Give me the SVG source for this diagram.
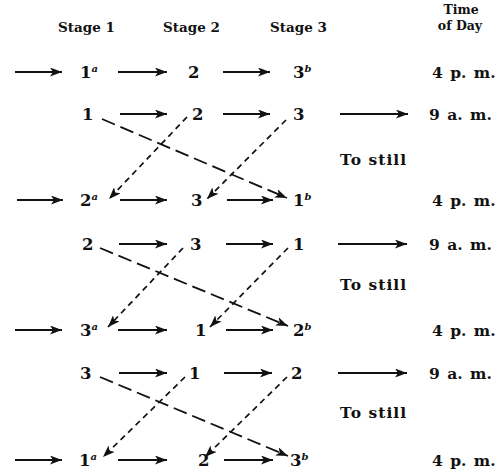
<svg xmlns="http://www.w3.org/2000/svg" width="504" height="472" viewBox="0 0 504 472">
<style>
text{font-family:"DejaVu Serif","Liberation Serif",serif;fill:#111;}
.hd{font-size:13.5px;font-weight:bold;}
.hd2{font-size:12.5px;font-weight:bold;}
.n{font-size:16.5px;font-weight:bold;}
.t{font-size:15.5px;font-weight:bold;word-spacing:2px;}
.ts{font-size:15.5px;font-weight:bold;letter-spacing:1px;}
.s{font-size:10px;font-style:italic;font-weight:bold;}
.a{stroke:#111;stroke-width:2;fill:none;marker-end:url(#ah);}
.ld{stroke:#111;stroke-width:1.8;fill:none;stroke-dasharray:14 6;marker-end:url(#ah);}
.sd{stroke:#111;stroke-width:1.7;fill:none;stroke-dasharray:6 4.5;marker-end:url(#ah);}
</style>
<defs>
<marker id="ah" markerUnits="userSpaceOnUse" markerWidth="13" markerHeight="9" refX="12" refY="4.5" orient="auto">
<path d="M0,0 L12,4.5 L0,9 L3,4.5 z" fill="#111"/>
</marker>
</defs>
<g id="headers">
<text class="hd" x="58" y="32">Stage 1</text>
<text class="hd" x="163" y="32">Stage 2</text>
<text class="hd" x="270" y="32">Stage 3</text>
<text class="hd2" x="461" y="14" text-anchor="middle">Time</text>
<text class="hd2" x="460" y="30" text-anchor="middle">of Day</text>
</g>
<g id="connectors">
<line class="a" x1="15" y1="72" x2="62" y2="72"/>
<line class="a" x1="118" y1="72" x2="167" y2="72"/>
<line class="a" x1="223" y1="72" x2="270" y2="72"/>
<line class="a" x1="120" y1="114" x2="167" y2="114"/>
<line class="a" x1="223" y1="114" x2="270" y2="114"/>
<line class="a" x1="340" y1="114" x2="408" y2="114"/>
<line class="a" x1="17" y1="200" x2="63" y2="200"/>
<line class="a" x1="120" y1="200" x2="167" y2="200"/>
<line class="a" x1="227" y1="200" x2="273" y2="200"/>
<line class="a" x1="119" y1="244" x2="167" y2="244"/>
<line class="a" x1="226" y1="244" x2="273" y2="244"/>
<line class="a" x1="338" y1="244" x2="407" y2="244"/>
<line class="a" x1="15" y1="330" x2="62" y2="330"/>
<line class="a" x1="118" y1="330" x2="167" y2="330"/>
<line class="a" x1="226" y1="330" x2="273" y2="330"/>
<line class="a" x1="119" y1="373" x2="167" y2="373"/>
<line class="a" x1="224" y1="373" x2="272" y2="373"/>
<line class="a" x1="338" y1="373" x2="407" y2="373"/>
<line class="a" x1="15" y1="460" x2="62" y2="460"/>
<line class="a" x1="118" y1="460" x2="167" y2="460"/>
<line class="a" x1="224" y1="460" x2="273" y2="460"/>
<line class="ld" x1="102" y1="119" x2="287" y2="198"/>
<line class="sd" x1="187" y1="117" x2="109" y2="199"/>
<line class="sd" x1="286" y1="120" x2="207" y2="199"/>
<line class="ld" x1="100" y1="248" x2="288" y2="326"/>
<line class="sd" x1="183" y1="248" x2="108" y2="327"/>
<line class="sd" x1="288" y1="248" x2="210" y2="327"/>
<line class="ld" x1="100" y1="377" x2="288" y2="456"/>
<line class="sd" x1="185" y1="377" x2="103" y2="457"/>
<line class="sd" x1="287" y1="377" x2="205" y2="457"/>
</g>
<g id="row1">
<text class="n" x="80" y="78">1<tspan class="s" dy="-6">a</tspan></text>
<text class="n" x="188" y="78">2</text>
<text class="n" x="293" y="78">3<tspan class="s" dy="-6">b</tspan></text>
<text class="t" x="432" y="78">4 p. m.</text>
</g>
<g id="row2">
<text class="n" x="82" y="120">1</text>
<text class="n" x="192" y="120">2</text>
<text class="n" x="293" y="120">3</text>
<text class="t" x="429" y="120">9 a. m.</text>
<text class="ts" x="340" y="165">To still</text>
</g>
<g id="row3">
<text class="n" x="80" y="206">2<tspan class="s" dy="-6">a</tspan></text>
<text class="n" x="191" y="206">3</text>
<text class="n" x="293" y="206">1<tspan class="s" dy="-6">b</tspan></text>
<text class="t" x="432" y="206">4 p. m.</text>
</g>
<g id="row4">
<text class="n" x="82" y="250">2</text>
<text class="n" x="190" y="250">3</text>
<text class="n" x="293" y="250">1</text>
<text class="t" x="429" y="250">9 a. m.</text>
<text class="ts" x="340" y="290">To still</text>
</g>
<g id="row5">
<text class="n" x="80" y="336">3<tspan class="s" dy="-6">a</tspan></text>
<text class="n" x="195" y="336">1</text>
<text class="n" x="293" y="336">2<tspan class="s" dy="-6">b</tspan></text>
<text class="t" x="432" y="336">4 p. m.</text>
</g>
<g id="row6">
<text class="n" x="80" y="379">3</text>
<text class="n" x="189" y="379">1</text>
<text class="n" x="291" y="379">2</text>
<text class="t" x="429" y="379">9 a. m.</text>
<text class="ts" x="340" y="418">To still</text>
</g>
<g id="row7">
<text class="n" x="79" y="466">1<tspan class="s" dy="-6">a</tspan></text>
<text class="n" x="198" y="466">2</text>
<text class="n" x="290" y="466">3<tspan class="s" dy="-6">b</tspan></text>
<text class="t" x="432" y="466">4 p. m.</text>
</g>
</svg>
